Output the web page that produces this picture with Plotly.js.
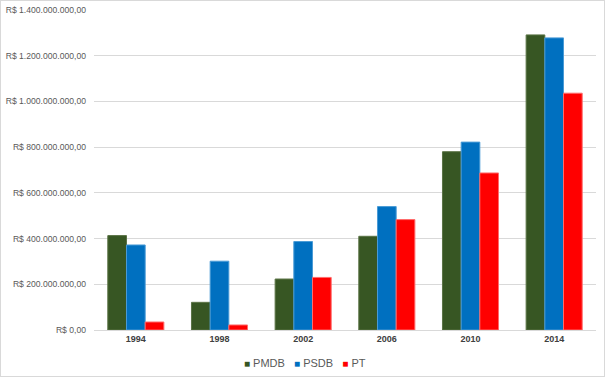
<!DOCTYPE html>
<html>
<head>
<meta charset="utf-8">
<script src="https://cdn.plot.ly/plotly-3.0.1.min.js"></script>
<style>
html,body{margin:0;padding:0;background:#fff;}
#chart{width:603px;height:375px;border:1px solid #d9d9d9;}
</style>
</head>
<body>
<div id="chart"></div>
<script>
const years = ["1994", "1998", "2002", "2006", "2010", "2014"];
const seriesNames = ["PMDB", "PSDB", "PT"];
const pmdb = [413e6, 121e6, 223e6, 410e6, 780e6, 1291e6];
const psdb = [372e6, 301e6, 387e6, 540e6, 822e6, 1278e6];
const pt = [35e6, 22e6, 230e6, 483e6, 687e6, 1036e6];
const tickVals = [0, 200e6, 400e6, 600e6, 800e6, 1000e6, 1200e6, 1400e6];
const tickLabels = ["R$ 0,00", "R$ 200.000.000,00", "R$ 400.000.000,00", "R$ 600.000.000,00",
  "R$ 800.000.000,00", "R$ 1.000.000.000,00", "R$ 1.200.000.000,00", "R$ 1.400.000.000,00"];

const colors = ['#375623', '#0070c0', '#ff0000'];
const lineColors = ['#5a7345', '#4a9bd6', '#ff6b6b'];
const values = [pmdb, psdb, pt];

const data = seriesNames.map((name, i) => ({
  type: 'bar', name: name, x: years, y: values[i],
  marker: {color: colors[i], line: {color: lineColors[i], width: 1}},
  hoverinfo: 'skip', showlegend: false
}));

const legendText = seriesNames.map((n, i) =>
  '<span style="color:' + colors[i] + ';font-size:10px">■</span> ' + n).join('&nbsp;&nbsp;&nbsp;');

const layout = {
  width: 603, height: 375,
  margin: {l: 93, r: 8, t: 9, b: 46},
  paper_bgcolor: '#fff', plot_bgcolor: '#fff',
  barmode: 'group', bargap: 0.33, bargroupgap: 0,
  font: {family: 'Liberation Sans, Arial, sans-serif', color: '#595959'},
  xaxis: {
    type: 'category', showgrid: false, showline: true, linecolor: '#d9d9d9', linewidth: 1,
    ticks: '', tickfont: {size: 9, color: '#404040', family: 'Liberation Sans, Arial, sans-serif', weight: 'bold'},
    ticklen: 0, automargin: false
  },
  yaxis: {
    range: [0, 1400e6], tickvals: tickVals, ticktext: tickLabels,
    showgrid: true, gridcolor: '#d9d9d9', gridwidth: 1, zeroline: false,
    showline: false, ticks: '', tickfont: {size: 8.6, color: '#595959'},
    ticklabelstandoff: 7, automargin: false
  },
  showlegend: false,
  annotations: [{
    text: legendText, xref: 'paper', yref: 'paper', x: 0.42, y: -0.103,
    xanchor: 'center', yanchor: 'middle', showarrow: false,
    font: {size: 11, color: '#595959'}
  }]
};
Plotly.newPlot('chart', data, layout, {displayModeBar: false, staticPlot: true});
</script>
</body>
</html>
